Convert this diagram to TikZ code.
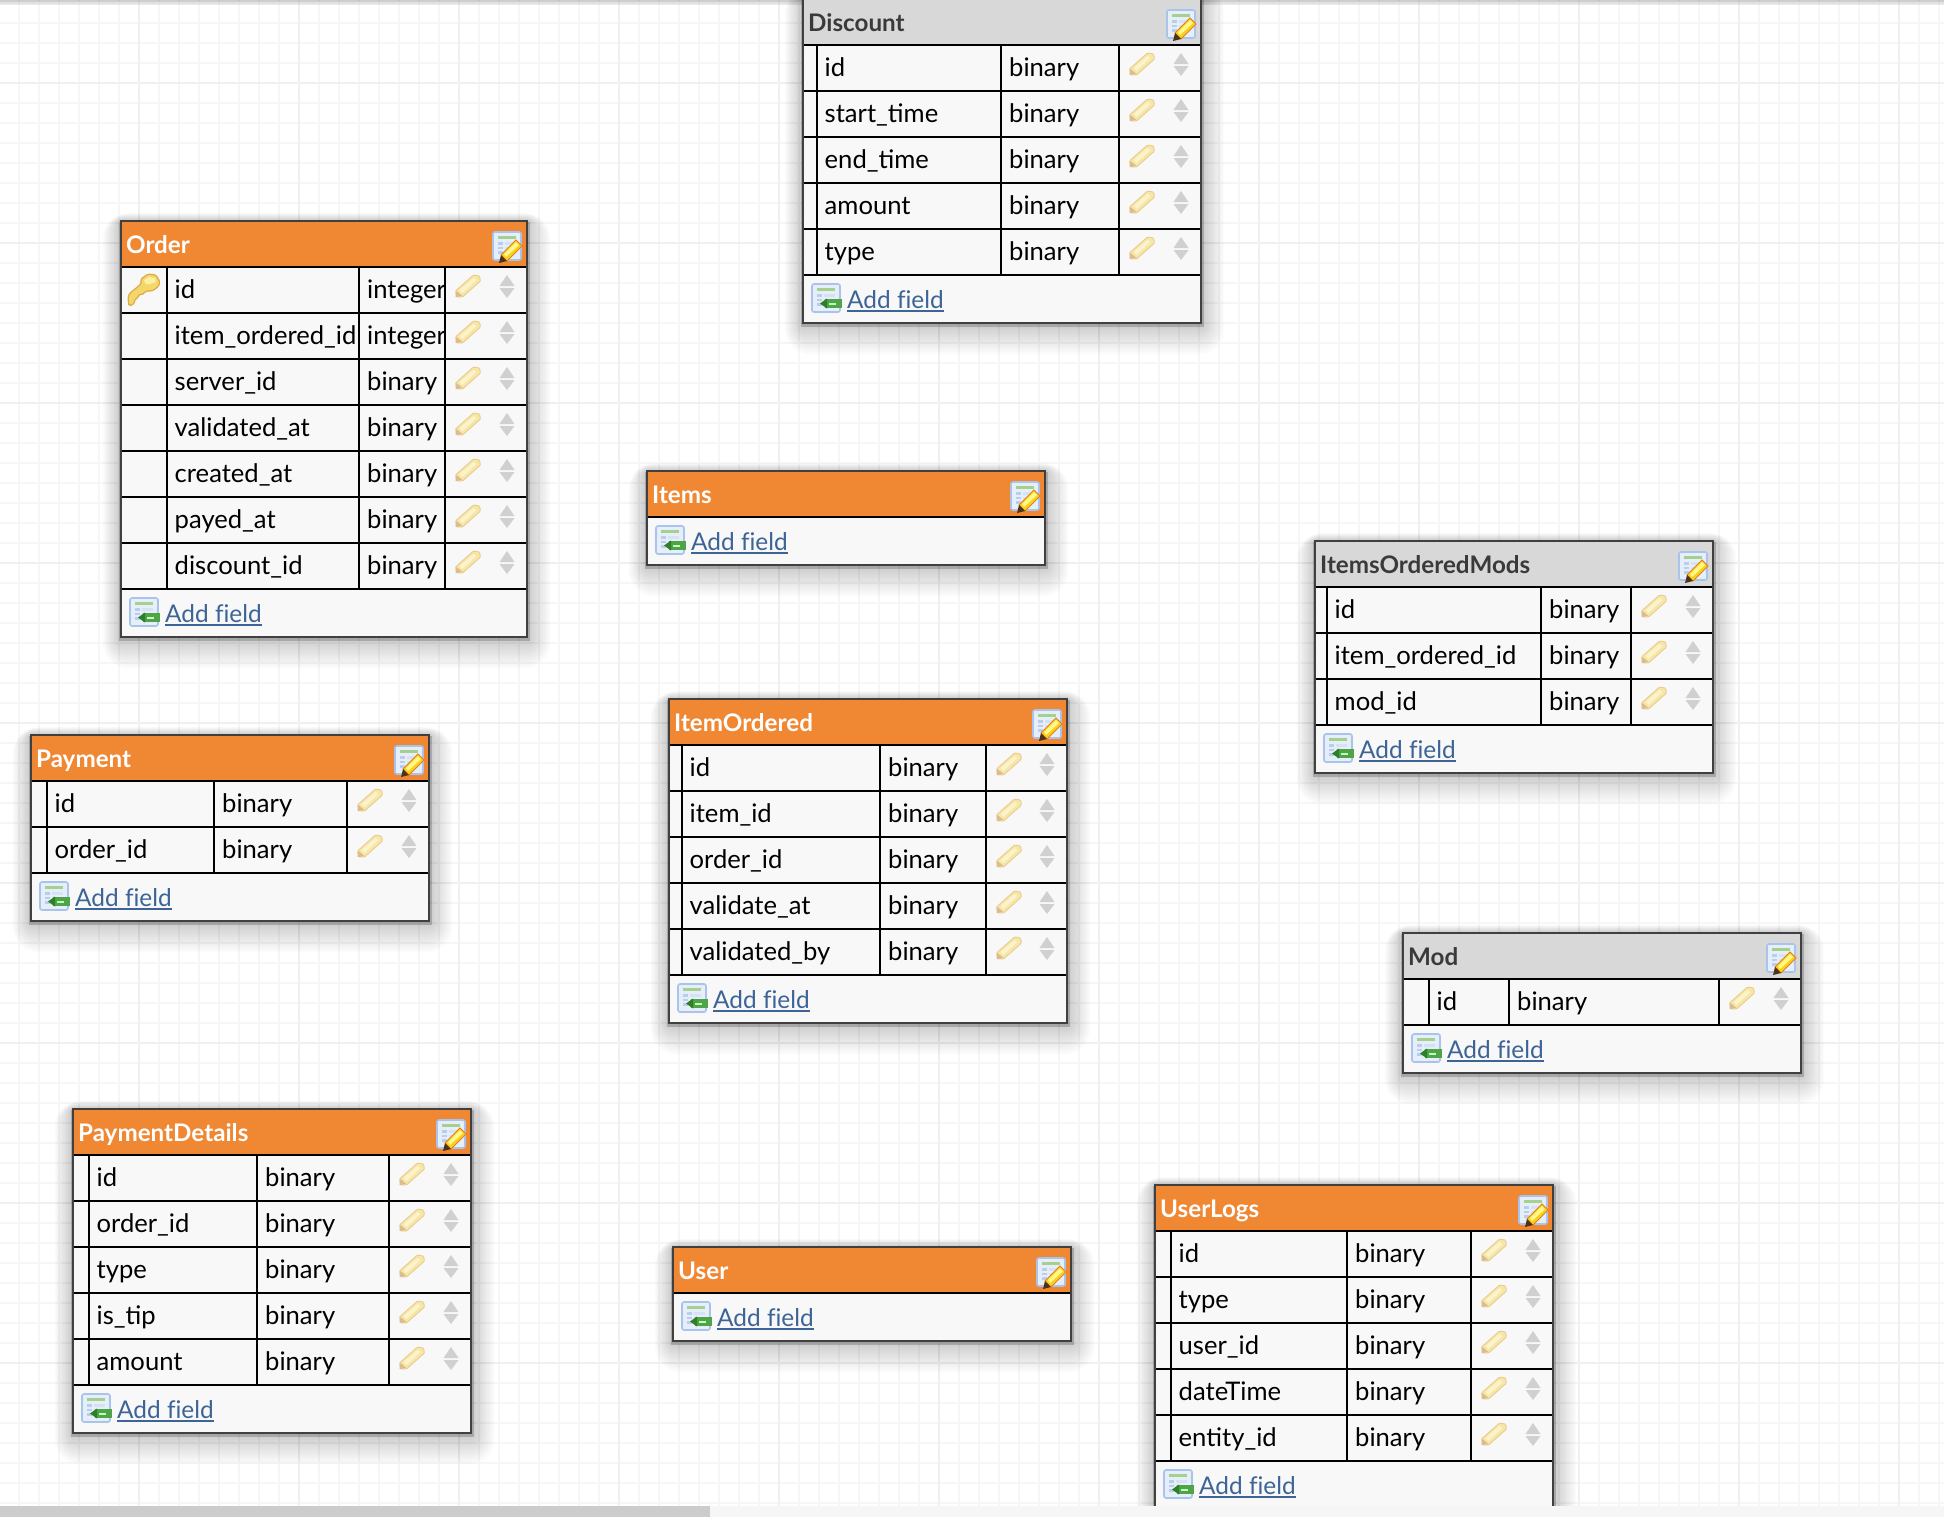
\documentclass[tikz,border=0pt]{standalone}
\usepackage{fontspec}
\setmainfont{Lato}
\definecolor{hdrorange}{HTML}{F08833}
\definecolor{hdrgray}{HTML}{D8D8D8}
\definecolor{hdrtextgray}{HTML}{3A3A3A}
\definecolor{rowbg}{HTML}{F8F8F8}
\definecolor{linkblue}{HTML}{3D6497}
\definecolor{gridminor}{HTML}{F6F6F6}
\definecolor{gridmajor}{HTML}{F0F0F0}
\definecolor{arrowgray}{HTML}{D0D0D0}
\definecolor{pencilbody}{HTML}{F6E7A6}
\definecolor{pencilhi}{HTML}{FBF3CC}
\definecolor{pencilline}{HTML}{EBCB8E}
\definecolor{penciltip}{HTML}{DDBB90}
\definecolor{iconedge}{HTML}{A9C4EC}
\definecolor{iconfill}{HTML}{E6EEFA}
\definecolor{iconcell}{HTML}{B9CEEE}
\definecolor{iconband}{HTML}{A6D08E}
\definecolor{addgreen}{HTML}{4FA447}
\definecolor{addarrow}{HTML}{2F7F2A}
\definecolor{keyfill}{HTML}{F3D768}
\definecolor{keyhi}{HTML}{FBEFA8}
\definecolor{keyline}{HTML}{DDAA4A}
\newcommand\addfieldlabel{\setbox0=\hbox{Add f\kern0pt ield}\rlap{\copy0}\raisebox{-3.5pt}{\rule{\wd0}{2pt}}}
\tikzset{
  x=1pt,y=-1pt,
  celltext/.style={anchor=base west,inner sep=0pt,font=\fontsize{25.6}{30}\selectfont,text=black},
  hdrtext/.style={anchor=base west,inner sep=0pt,font=\fontsize{24.2}{30}\selectfont\bfseries},
  linktext/.style={anchor=base west,inner sep=0pt,font=\fontsize{24.4}{30}\selectfont,text=linkblue},
  gridline/.style={line width=2pt},
  rule/.style={draw=black,line width=2.2pt},
  outer/.style={draw=black!75,line width=2.6pt},
}
% small pencil in a row: #1 x, #2 y of its top left corner
\newcommand\rowpencil[2]{%
  \begin{scope}[shift={(#1,#2)}]
    \fill[rounded corners=1pt,fill=pencilbody,draw=pencilline,line width=.9pt]
      (0,17)--(18,1)--(24,2)--(25,7)--(7,23)--(1,23)--cycle;
    \fill[pencilhi] (4,16)--(18,4)--(21,6)--(7,19)--cycle;
    \fill[penciltip] (0,23)--(1,17)--(7,22)--cycle;
  \end{scope}}
% up and down triangles: #1 centre x, #2 y of row top
\newcommand\rowarrows[2]{%
  \fill[arrowgray] (#1-7.5,#2+19)--(#1+7.5,#2+19)--(#1,#2+8)--cycle;
  \fill[arrowgray] (#1-7.5,#2+21)--(#1+7.5,#2+21)--(#1,#2+31)--cycle;}
% table icon body: #1 x, #2 y
\newcommand\tblicon[2]{%
  \fill[rounded corners=2pt,fill=iconfill,draw=iconedge,line width=1.6pt] (#1,#2) rectangle (#1+28,#2+28);
  \fill[iconband] (#1+5,#2+4) rectangle (#1+23,#2+6.5);
  \foreach \ty in {10,14.5,19}{\fill[iconcell] (#1+5,#2+\ty) rectangle (#1+10,#2+\ty+2.5);\fill[iconcell!60!white] (#1+12,#2+\ty) rectangle (#1+23,#2+\ty+2.5);}}
% header icon: #1 x, #2 y
\newcommand\hdricon[2]{%
  \tblicon{#1}{#2}
  \begin{scope}[shift={(#1,#2)}]
    \fill[fill=yellow!65!orange!90,draw=orange!60!brown,line width=.9pt] (8,23)--(23,8)--(29,14)--(14,29)--cycle;
    \fill[yellow!45!white] (11,22)--(23,10)--(26,13)--(13,25)--cycle;
    \fill[black!60!brown] (6,31)--(8,23)--(14,29)--cycle;
  \end{scope}}
% add-field icon: #1 x, #2 y
\newcommand\addicon[2]{%
  \tblicon{#1}{#2}
  \fill[addgreen] (#1+13,#2+15) rectangle (#1+30,#2+24);
  \fill[white!75!green] (#1+17,#2+18.5) rectangle (#1+24,#2+20.5);
  \fill[addarrow] (#1+8,#2+19.5)--(#1+15,#2+14.5)--(#1+15,#2+24.5)--cycle;}
% drop shadow for a box
\newcommand\boxshadow[4]{%
  \foreach \sh in {26,24,...,2}{
    \fill[black,opacity=.017,rounded corners=\sh pt] (#1-\sh*.7,#2-\sh*.3) rectangle (#3+\sh*.9,#4+\sh*1.2);}
  \fill[black,opacity=.18] (#1-2,#2+1) rectangle (#3+3,#4+4);}
\newcommand\dbhead[7]{%
  \def\tL{#2}\def\tT{#3}\def\tR{#4}\def\tID{#1}%
  \pgfmathsetmacro\tHB{#3+46}%
  \fill[#5] (#2,#3) rectangle (#4,\tHB);
  \node[hdrtext,text=#6] (#1-title) at (#2+5,#3+32) {#7};
  \hdricon{#4-34}{#3+11}
}
% #1 rows list name/type, #2 c1, #3 c2, #4 c3, #5 bottom
\newcommand\dbbody[5]{%
  \pgfmathsetmacro\tHB{\tT+46}%
  \fill[rowbg] (\tL,\tHB) rectangle (\tR,#5);
  \foreach \fname/\ftype [count=\rn from 0] in {#1}{
    \pgfmathsetmacro\ry{\tHB+46*\rn}
    \draw[rule] (\tL,\ry) -- (\tR,\ry);
    \draw[rule] (#2,\ry) -- (#2,\ry+46);
    \draw[rule] (#3,\ry) -- (#3,\ry+46);
    \draw[rule] (#4,\ry) -- (#4,\ry+46);
    \node[celltext] (\tID-n\rn) at (#2+7.5,\ry+31) {\fname};
    \node[celltext] (\tID-t\rn) at (#3+8,\ry+31) {\ftype};
    \rowpencil{#4+10.5}{\ry+7}
    \rowarrows{\tR-20}{\ry}
    \draw[rule] (\tL,\ry+46) -- (\tR,\ry+46);
  }
}
\newcommand\dbfoot[2]{% #1 rows bottom, #2 table bottom
  \fill[rowbg] (\tL,#1) rectangle (\tR,#2);
  \draw[rule] (\tL,#1) -- (\tR,#1);
  \addicon{\tL+9}{#1+9}
  \node[linktext] (\tID-add) at (\tL+44,#1+33) {\addfieldlabel};
}
\newcommand\dbframe[1]{\draw[outer] (\tL,\tT) rectangle (\tR,#1);}
\begin{document}
\begin{tikzpicture}
\useasboundingbox (0,0) rectangle (1944,1516);
\begin{scope}
\clip (0,0) rectangle (1944,1522);
\fill[white] (0,0) rectangle (1944,1522);
% grid
\foreach \gx in {19,39,...,1939}{\draw[gridline,gridminor] (\gx,0)--(\gx,1516);}
\foreach \gy in {3,23,...,1516}{\draw[gridline,gridminor] (0,\gy)--(1944,\gy);}
\foreach \gx in {139,299,...,1939}{\draw[gridline,gridmajor] (\gx,0)--(\gx,1516);}
\foreach \gy in {83,243,...,1516}{\draw[gridline,gridmajor] (0,\gy)--(1944,\gy);}
% top edge shade
\fill[black,opacity=.08] (0,0) rectangle (1944,5);
\fill[black,opacity=.12] (0,0) rectangle (1944,2);

% Discount
\boxshadow{803}{-5}{1201}{323}
\dbhead{disc}{803}{-1}{1201}{hdrgray}{hdrtextgray}{Discount}
\dbbody{id/binary,start\_time/binary,end\_time/binary,amount/binary,type/binary}{817}{1001}{1119}{275}
\dbfoot{275}{323}
\dbframe{323}

% Order
\boxshadow{121}{221}{527}{637}
\dbhead{ord}{121}{221}{527}{hdrorange}{white}{Order}
\dbbody{id/integer,item\_ordered\_id/integer,server\_id/binary,validated\_at/binary,created\_at/binary,payed\_at/binary,discount\_id/binary}{167}{359}{445}{589}
\dbfoot{589}{637}
\dbframe{637}
% key
\begin{scope}[shift={(128,274)}]
  \fill[rounded corners=1.5pt,fill=keyfill,draw=keyline,line width=1.2pt]
    (0,24)--(1,20)--(13,10)--(13,5)--(20,0)--(28,1)--(32,8)--(30,13)--(24,17)--(18,17)--(14,21)--(11,20)--(10,24)--(7,25)--(6,30)--(1,32)--cycle;
  \fill[keyhi] (16,6)--(21,3)--(27,4)--(28,8)--(22,10)--(18,10)--cycle;
\end{scope}

% Items
\boxshadow{647}{471}{1045}{565}
\dbhead{items}{647}{471}{1045}{hdrorange}{white}{Items}
\dbfoot{517}{565}
\dbframe{565}

% ItemsOrderedMods
\boxshadow{1315}{541}{1713}{773}
\dbhead{iom}{1315}{541}{1713}{hdrgray}{hdrtextgray}{ItemsOrderedMods}
\dbbody{id/binary,item\_ordered\_id/binary,mod\_id/binary}{1327}{1541}{1631}{725}
\dbfoot{725}{773}
\dbframe{773}

% ItemOrdered
\boxshadow{669}{699}{1067}{1023}
\dbhead{io}{669}{699}{1067}{hdrorange}{white}{ItemOrdered}
\dbbody{id/binary,item\_id/binary,order\_id/binary,validate\_at/binary,validated\_by/binary}{682}{880}{986}{975}
\dbfoot{975}{1023}
\dbframe{1023}

% Payment
\boxshadow{31}{735}{429}{921}
\dbhead{pay}{31}{735}{429}{hdrorange}{white}{Payment}
\dbbody{id/binary,order\_id/binary}{47}{214}{347}{873}
\dbfoot{873}{921}
\dbframe{921}

% Mod
\boxshadow{1403}{933}{1801}{1073}
\dbhead{mod}{1403}{933}{1801}{hdrgray}{hdrtextgray}{Mod}
\dbbody{id/binary}{1429}{1509}{1719}{1025}
\dbfoot{1025}{1073}
\dbframe{1073}

% PaymentDetails
\boxshadow{73}{1109}{471}{1433}
\dbhead{pd}{73}{1109}{471}{hdrorange}{white}{PaymentDetails}
\dbbody{id/binary,order\_id/binary,type/binary,is\_tip/binary,amount/binary}{89}{257}{389}{1385}
\dbfoot{1385}{1433}
\dbframe{1433}

% User
\boxshadow{673}{1247}{1071}{1341}
\dbhead{usr}{673}{1247}{1071}{hdrorange}{white}{User}
\dbfoot{1293}{1341}
\dbframe{1341}

% UserLogs
\boxshadow{1155}{1185}{1553}{1530}
\dbhead{ul}{1155}{1185}{1553}{hdrorange}{white}{UserLogs}
\dbbody{id/binary,type/binary,user\_id/binary,dateTime/binary,entity\_id/binary}{1171}{1347}{1471}{1461}
\dbfoot{1461}{1530}
\dbframe{1530}

% scrollbar strip
\fill[black!3.5] (0,1506) rectangle (1944,1522);
\fill[black!20] (0,1506) rectangle (710,1522);
\end{scope}
\end{tikzpicture}
\end{document}
